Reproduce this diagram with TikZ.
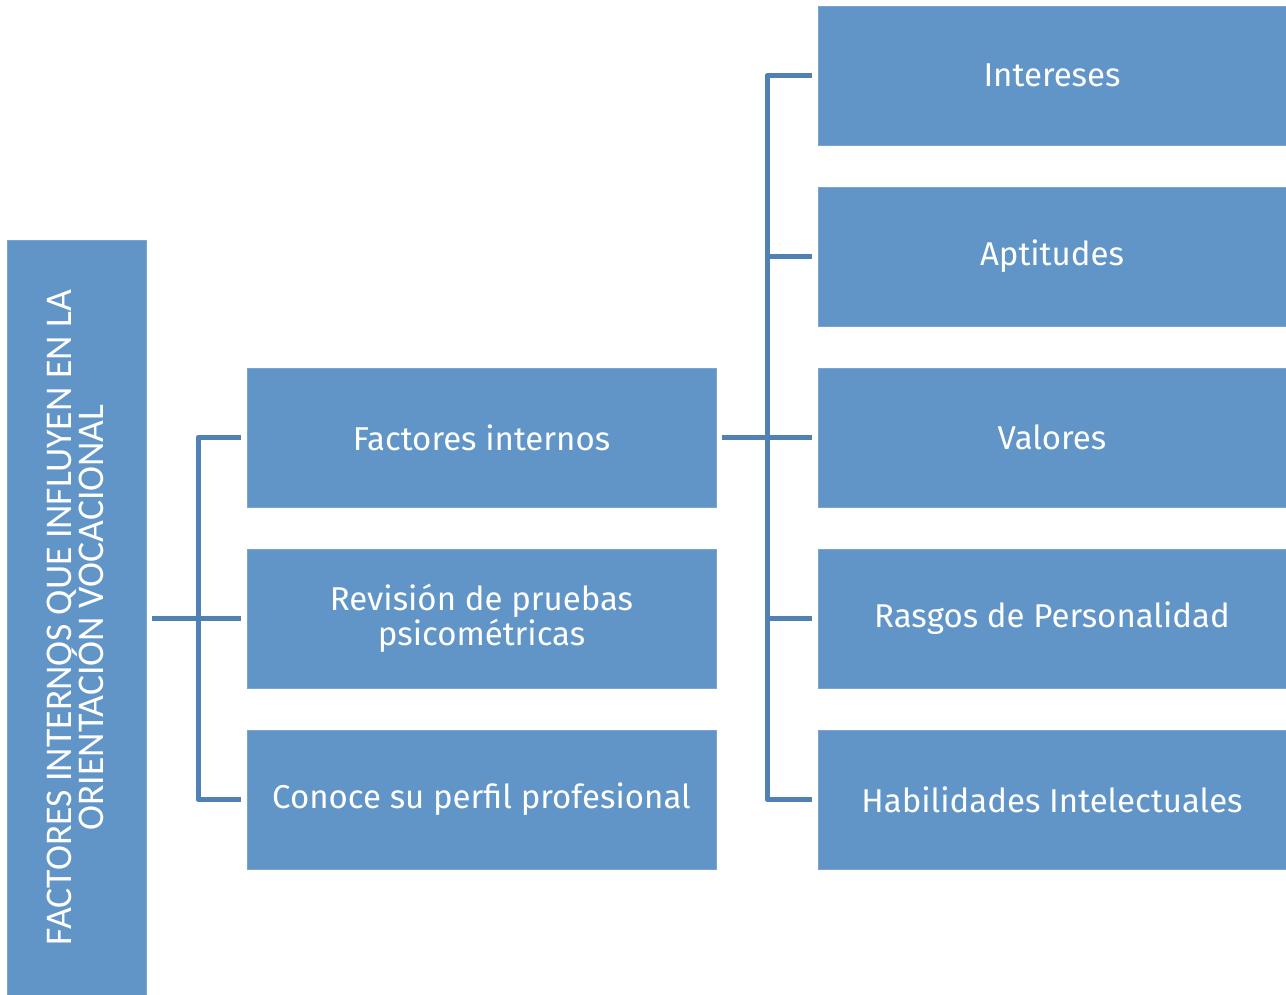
\documentclass[tikz,border=0pt]{standalone}
\usepackage{fontspec}
\setmainfont{Fira Sans}
\newfontfamily\titlefont{Carlito}
\newcommand\mytitlesetup{\titlefont\fontsize{37.7}{32}\selectfont\lineskiplimit=-100pt\relax}
\definecolor{boxblue}{HTML}{6195C8}
\definecolor{lineblue}{HTML}{5081B4}
\begin{document}
\begin{tikzpicture}[x=1pt,y=-1pt,
  box/.style={rectangle, fill=boxblue, draw=boxblue!85!white, line width=0.8pt, inner sep=0pt, text=white,
    minimum width=469pt, minimum height=139pt, align=center,
    font=\fontsize{33}{31}\selectfont},
  conn/.style={draw=lineblue, line width=5pt, line join=round}]
\useasboundingbox (0,0) rectangle (1286,995);
\node[rectangle, fill=boxblue, draw=boxblue!85!white, line width=0.8pt, inner sep=0pt,
  minimum width=139pt, minimum height=755pt] (title) at (76.5,617.5) {};
\node[text=white, align=center, rotate=90, font=\mytitlesetup, inner sep=0pt] (titletext) at (75.5,617.5)
  {FACTORES INTERNOS QUE INFLUYEN EN LA\\ORIENTACIÓN VOCACIONAL};
\node[box] (m1) at (481.5,437.5) {Factores internos};
\node[box] (m2) at (481.5,618.5) {Revisión de pruebas\\psicométricas};
\node[box] (m3) at (481.5,799.5) {Conoce su perfil profesional};
\node[box, minimum width=468pt] (r1) at (1052,75.5) {Intereses};
\node[box, minimum width=468pt] (r2) at (1052,256.5) {Aptitudes};
\node[box, minimum width=468pt] (r3) at (1052,437.5) {Valores};
\node[box, minimum width=468pt] (r4) at (1052,618.5) {Rasgos de Personalidad};
\node[box, minimum width=468pt] (r5) at (1052,799.5) {Habilidades Intelectuales};
\coordinate (lb) at (198,0);
\coordinate (rb) at (767,0);
\draw[conn] ([xshift=6pt]title.east |- m2.west) -- ([xshift=-6pt]m2.west);
\draw[conn] ([xshift=-6pt]m1.west) -- (lb |- m1.west) -- (lb |- m3.west) -- ([xshift=-6pt]m3.west);
\draw[conn] ([xshift=6pt]m1.east) -- ([xshift=-6pt]r3.west);
\draw[conn] ([xshift=-6pt]r1.west) -- (rb |- r1.west) -- (rb |- r5.west) -- ([xshift=-6pt]r5.west);
\draw[conn] (rb |- r2.west) -- ([xshift=-6pt]r2.west);
\draw[conn] (rb |- r4.west) -- ([xshift=-6pt]r4.west);
\end{tikzpicture}
\end{document}
